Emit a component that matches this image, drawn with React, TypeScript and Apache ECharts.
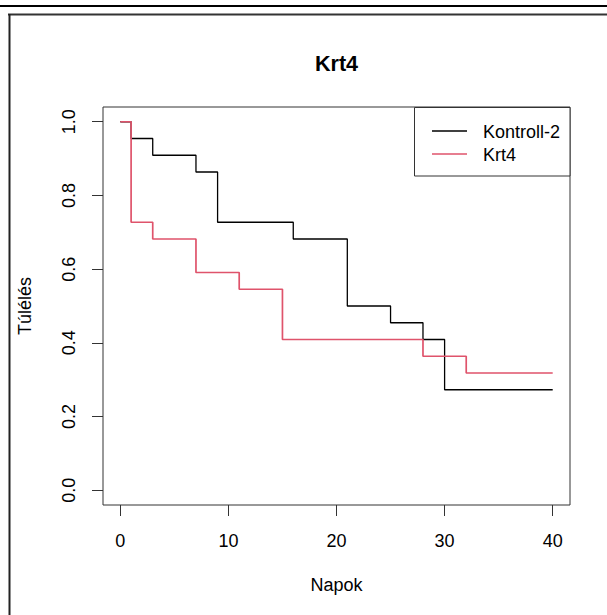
import React, { useEffect, useRef } from "react";
import * as echarts from "echarts";

const TITLE = "Krt4";
const X_NAME = "Napok";
const Y_NAME = "Túlélés";
const SERIES_NAMES = ["Kontroll-2", "Krt4"];
const SERIES_COLORS = ["#000000", "#DF536B"];

const kontrollTimes = [0, 1, 3, 7, 9, 16, 21, 25, 28, 30, 40];
const kontrollSurv = [1, 0.9545, 0.9091, 0.8636, 0.7273, 0.6818, 0.5, 0.4545, 0.4091, 0.2727, 0.2727];
const krt4Times = [0, 1, 3, 7, 11, 15, 28, 32, 40];
const krt4Surv = [1, 0.7273, 0.6818, 0.5909, 0.5455, 0.4091, 0.3636, 0.3182, 0.3182];

const xTicks = [0, 10, 20, 30, 40];
const yTicks = [0, 0.2, 0.4, 0.6, 0.8, 1.0];

const FONT = "'Liberation Sans', Arial, Helvetica, sans-serif";

export default function App() {
  const ref = useRef<HTMLDivElement>(null);
  useEffect(() => {
    if (!ref.current) return;
    const chart = echarts.init(ref.current, null, { renderer: "svg" });
    const zip = (t: number[], s: number[]) => t.map((v, i) => [v, s[i]]);
    const plotL = 103, plotT = 107, plotR = 570, plotB = 505;
    chart.setOption({
      animation: false,
      backgroundColor: "#ffffff",
      grid: {
        left: plotL,
        top: plotT,
        right: 607 - plotR,
        bottom: 615 - plotB,
        show: true,
        borderColor: "#333333",
        borderWidth: 1,
        backgroundColor: "transparent",
      },
      xAxis: {
        type: "value",
        min: -1.6,
        max: 41.6,
        axisLine: { show: false, onZero: false },
        splitLine: { show: false },
        axisTick: { show: true, length: 11, lineStyle: { color: "#333333", width: 1 }, customValues: xTicks },
        axisLabel: {
          customValues: xTicks,
          margin: 27,
          fontSize: 18,
          fontFamily: FONT,
          color: "#000000",
        },
      },
      yAxis: {
        type: "value",
        min: -0.04,
        max: 1.04,
        axisLine: { show: false, onZero: false },
        splitLine: { show: false },
        axisTick: { show: true, length: 11, lineStyle: { color: "#333333", width: 1 }, customValues: yTicks },
        axisLabel: {
          customValues: yTicks,
          rotate: 90,
          margin: 25,
          fontSize: 18,
          fontFamily: FONT,
          color: "#000000",
          formatter: (v: number) => v.toFixed(1),
        },
      },
      series: [
        {
          name: SERIES_NAMES[0],
          type: "line",
          step: "end",
          z: 2,
          data: zip(kontrollTimes, kontrollSurv),
          showSymbol: false,
          lineStyle: { color: SERIES_COLORS[0], width: 1.3 },
          itemStyle: { color: SERIES_COLORS[0] },
        },
        {
          name: SERIES_NAMES[1],
          type: "line",
          step: "end",
          z: 3,
          data: zip(krt4Times, krt4Surv),
          showSymbol: false,
          lineStyle: { color: SERIES_COLORS[1], width: 1.7 },
          itemStyle: { color: SERIES_COLORS[1] },
        },
      ],
      graphic: [
        { type: "line", shape: { x1: 0, y1: 6, x2: 607, y2: 6 }, style: { stroke: "#000000", lineWidth: 2 } },
        { type: "line", shape: { x1: 8, y1: 14.5, x2: 607, y2: 14.5 }, style: { stroke: "#333333", lineWidth: 2 } },
        { type: "line", shape: { x1: 9.5, y1: 14, x2: 9.5, y2: 615 }, style: { stroke: "#222222", lineWidth: 2 } },
        {
          type: "text",
          x: 336.5,
          y: 63,
          style: { text: TITLE, fontSize: 21.6, fontWeight: "bold", fontFamily: FONT, fill: "#000000", align: "center", verticalAlign: "middle" },
        },
        {
          type: "text",
          x: 336.5,
          y: 585,
          style: { text: X_NAME, fontSize: 18, fontFamily: FONT, fill: "#000000", align: "center", verticalAlign: "middle" },
        },
        {
          type: "text",
          x: 25,
          y: 306,
          rotation: Math.PI / 2,
          style: { text: Y_NAME, fontSize: 18, fontFamily: FONT, fill: "#000000", align: "center", verticalAlign: "middle" },
        },
        {
          type: "rect",
          shape: { x: 414.5, y: 107.5, width: 155.5, height: 68.5 },
          style: { fill: "#ffffff", stroke: "#333333", lineWidth: 1 },
        },
        { type: "line", shape: { x1: 432, y1: 131, x2: 467, y2: 131 }, style: { stroke: SERIES_COLORS[0], lineWidth: 1.3 } },
        { type: "line", shape: { x1: 432, y1: 154, x2: 467, y2: 154 }, style: { stroke: SERIES_COLORS[1], lineWidth: 1.3 } },
        {
          type: "text",
          x: 483,
          y: 132,
          style: { text: SERIES_NAMES[0], fontSize: 18, fontFamily: FONT, fill: "#000000", align: "left", verticalAlign: "middle" },
        },
        {
          type: "text",
          x: 483,
          y: 155,
          style: { text: SERIES_NAMES[1], fontSize: 18, fontFamily: FONT, fill: "#000000", align: "left", verticalAlign: "middle" },
        },
      ],
    });
    return () => chart.dispose();
  }, []);
  return <div ref={ref} style={{ position: "absolute", left: 0, top: 0, width: 607, height: 615 }} />;
}
